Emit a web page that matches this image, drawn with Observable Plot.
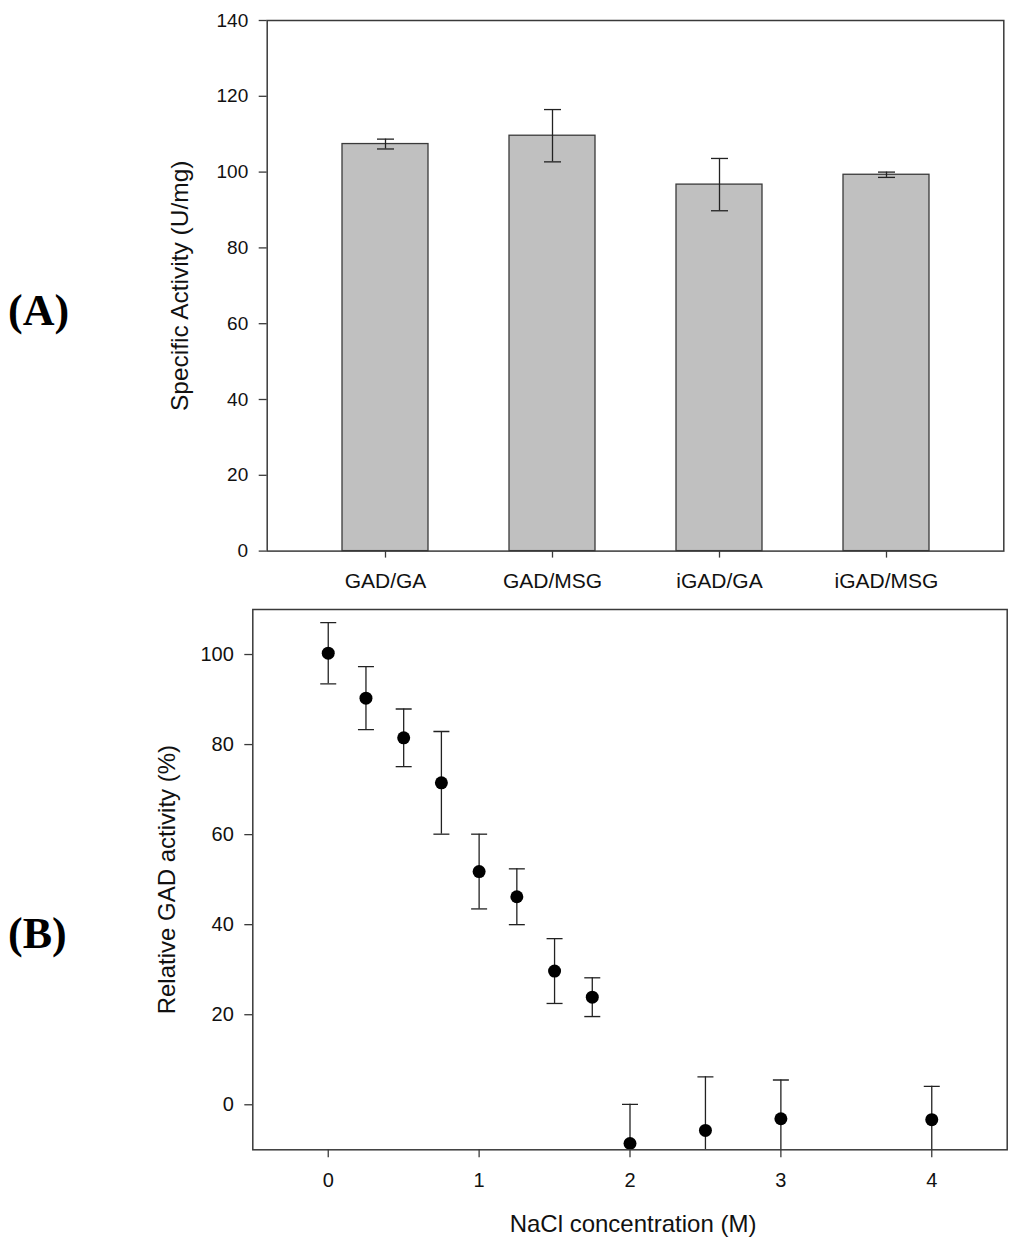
<!DOCTYPE html>
<html>
<head>
<meta charset="utf-8">
<script src="https://cdn.jsdelivr.net/npm/d3@7"></script>
<script src="https://cdn.jsdelivr.net/npm/@observablehq/plot@0.6"></script>
<style>
  html, body { margin: 0; padding: 0; background: #fff; }
  #wrap { position: relative; width: 1024px; height: 1249px; overflow: hidden; }
  #wrap svg { display: block; }
  #panelA { position: absolute; left: 0; top: 0; }
  #panelB { position: absolute; left: 0; top: 600px; }
  .tag { position: absolute; font-family: "Liberation Serif", "Times New Roman", serif; font-weight: bold; font-size: 44px; color: #000; line-height: 1; }
</style>
</head>
<body>
<div id="wrap">
  <div id="panelA"></div>
  <div id="panelB"></div>
  <div class="tag" style="left:8px; top:289px;">(A)</div>
  <div class="tag" style="left:8px; top:912px;">(B)</div>
</div>
<script>
// ---- Panel A data ----
const categoriesA = ["GAD/GA", "GAD/MSG", "iGAD/GA", "iGAD/MSG"];
const activityA = [107.4, 109.6, 96.7, 99.3];
const errorA = [1.3, 6.9, 6.9, 0.7];
const ticksA = [0, 20, 40, 60, 80, 100, 120, 140];
const yLabelA = "Specific Activity (U/mg)";

// ---- Panel B data ----
const naclConc = [0, 0.25, 0.5, 0.75, 1, 1.25, 1.5, 1.75, 2, 2.5, 3, 4];
const relActivity = [100.3, 90.3, 81.5, 71.5, 51.8, 46.2, 29.7, 23.9, -8.6, -5.7, -3.1, -3.3];
const relError = [6.8, 7.0, 6.4, 11.4, 8.3, 6.2, 7.2, 4.3, 8.7, 11.9, 8.6, 7.4];
const ticksBx = [0, 1, 2, 3, 4];
const ticksBy = [0, 20, 40, 60, 80, 100];
const xLabelB = "NaCl concentration (M)";
const yLabelB = "Relative GAD activity (%)";

const tableA = categoriesA.map((c, i) => ({cat: c, v: activityA[i], lo: activityA[i] - errorA[i], hi: activityA[i] + errorA[i]}));
const tableB = naclConc.map((x, i) => ({x, v: relActivity[i], lo: relActivity[i] - relError[i], hi: relActivity[i] + relError[i]}));

const capSymbol = {
  draw(ctx, size) {
    const w = Math.sqrt(size / Math.PI);
    ctx.moveTo(-w, 0);
    ctx.lineTo(w, 0);
  }
};

const axisColor = "#3a3a3a";
const font = "'Liberation Sans', Arial, sans-serif";
const fmt = d => String(d);

const plotA = Plot.plot({
  width: 1024,
  height: 600,
  marginLeft: 266.7,
  marginRight: 20.7,
  marginTop: 20,
  marginBottom: 49.4,
  style: {fontFamily: font, color: "#111", background: "transparent"},
  x: {type: "band", domain: categoriesA, paddingInner: 0.486, paddingOuter: 0.443},
  y: {domain: [0, 140]},
  marks: [
    Plot.barY(tableA, {x: "cat", y: "v", fill: "#c0c0c0", stroke: "#3a3a3a", strokeWidth: 1.3}),
    Plot.ruleX(tableA, {x: "cat", y1: "lo", y2: "hi", stroke: "#222", strokeWidth: 1.3}),
    Plot.dot(tableA, {x: "cat", y: "hi", symbol: capSymbol, r: 8.5, stroke: "#222", strokeWidth: 1.3, fill: "none"}),
    Plot.dot(tableA, {x: "cat", y: "lo", symbol: capSymbol, r: 8.5, stroke: "#222", strokeWidth: 1.3, fill: "none"}),
    Plot.frame({stroke: axisColor, strokeWidth: 1.5}),
    Plot.axisY({ticks: ticksA, tickFormat: fmt, tickSize: 8, tickPadding: 11, fontSize: 19, label: null, stroke: axisColor, strokeWidth: 1.3}),
    Plot.axisX({tickSize: 7, tickPadding: 15, fontSize: 21, label: null, stroke: axisColor, strokeWidth: 1.3}),
    Plot.text([yLabelA], {frameAnchor: "left", textAnchor: "middle", dx: -86.7, rotate: -90, fontSize: 24.5, text: d => d, fill: "#111"})
  ]
});
document.getElementById("panelA").appendChild(plotA);

const plotB = Plot.plot({
  width: 1024,
  height: 649,
  marginLeft: 252.3,
  marginRight: 17.3,
  marginTop: 9,
  marginBottom: 99.7,
  style: {fontFamily: font, color: "#111", background: "transparent"},
  x: {domain: [-0.5, 4.5]},
  y: {domain: [-10, 110]},
  marks: [
    Plot.ruleX(tableB, {x: "x", y1: "lo", y2: "hi", stroke: "#222", strokeWidth: 1.3, clip: true}),
    Plot.dot(tableB, {x: "x", y: "hi", symbol: capSymbol, r: 8, stroke: "#222", strokeWidth: 1.3, fill: "none", clip: true}),
    Plot.dot(tableB, {x: "x", y: "lo", symbol: capSymbol, r: 8, stroke: "#222", strokeWidth: 1.3, fill: "none", clip: true}),
    Plot.dot(tableB, {x: "x", y: "v", r: 6.5, fill: "#000", stroke: "none"}),
    Plot.frame({stroke: axisColor, strokeWidth: 1.5}),
    Plot.axisY({ticks: ticksBy, tickFormat: fmt, tickSize: 8, tickPadding: 11, fontSize: 20, label: null, stroke: axisColor, strokeWidth: 1.3}),
    Plot.axisX({ticks: ticksBx, tickFormat: fmt, tickSize: 8, tickPadding: 15, fontSize: 20, label: null, stroke: axisColor, strokeWidth: 1.3}),
    Plot.text([yLabelB], {frameAnchor: "left", textAnchor: "middle", dx: -85.3, rotate: -90, fontSize: 24, text: d => d, fill: "#111"}),
    Plot.text([xLabelB], {frameAnchor: "bottom", textAnchor: "middle", dy: 82, dx: 3, fontSize: 24, text: d => d, fill: "#111"})
  ]
});
document.getElementById("panelB").appendChild(plotB);
</script>
</body>
</html>
